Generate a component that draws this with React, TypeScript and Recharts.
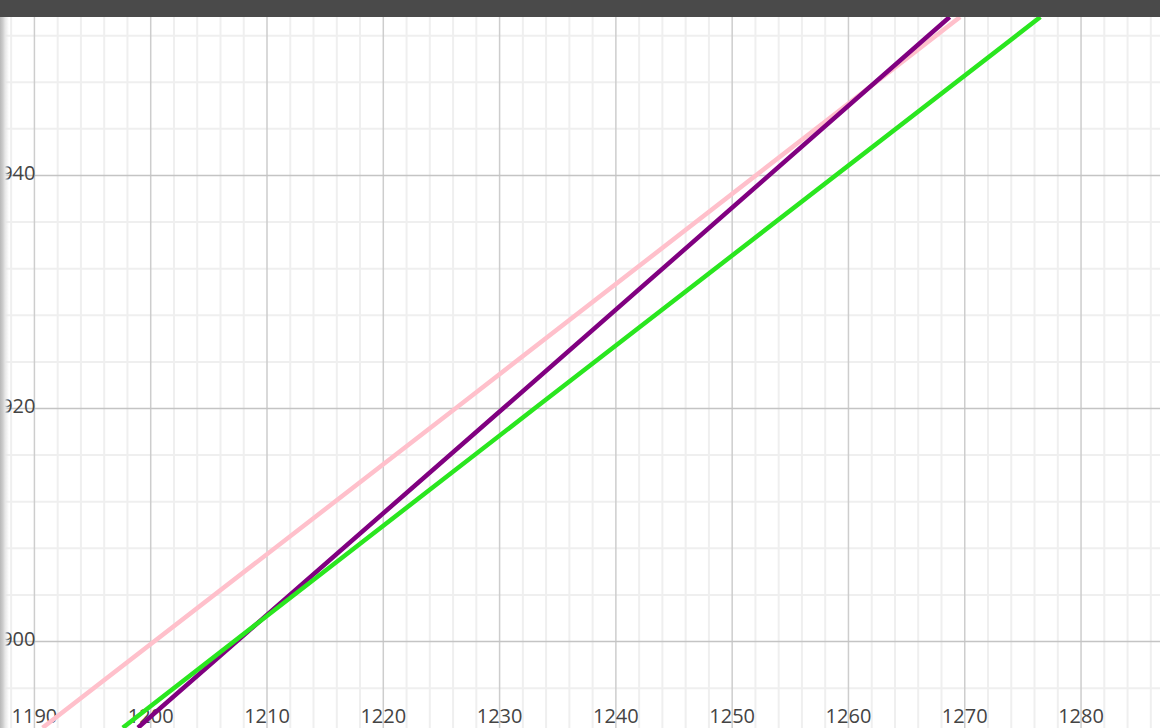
import { LineChart, Line, XAxis, YAxis, ReferenceLine } from 'recharts';

// visible window of the plot (data units)
const xDomain = [1187.04, 1286.79];
const yDomain = [892.58, 953.6];

const xMajorTicks = [1190, 1200, 1210, 1220, 1230, 1240, 1250, 1260, 1270, 1280];
const xMinorTicks = [
  1188, 1192, 1194, 1196, 1198, 1202, 1204, 1206, 1208, 1212, 1214, 1216, 1218, 1222,
  1224, 1226, 1228, 1232, 1234, 1236, 1238, 1242, 1244, 1246, 1248, 1252, 1254, 1256,
  1258, 1262, 1264, 1266, 1268, 1272, 1274, 1276, 1278, 1282, 1284, 1286,
];
const yMajorTicks = [900, 920, 940];
const yMinorTicks = [896, 904, 908, 912, 916, 924, 928, 932, 936, 944, 948, 952];

// points
const pinkLine = [
  { x: 1190.7, y: 892.6 },
  { x: 1226.2, y: 920.0 },
  { x: 1269.6, y: 953.6 },
];
const purpleLine = [
  { x: 1198.9, y: 892.6 },
  { x: 1230.3, y: 920.0 },
  { x: 1268.7, y: 953.6 },
];
const greenLine = [
  { x: 1197.6, y: 892.6 },
  { x: 1233.0, y: 920.0 },
  { x: 1276.5, y: 953.6 },
];

const CHART_W = 1160;
const CHART_H = 711;
const labelFont = '"Open Sans", "Noto Sans", sans-serif';

function XLabel(props: any) {
  const vb = props.viewBox || {};
  return (
    <text
      x={vb.x}
      y={CHART_H - 5}
      textAnchor="middle"
      fontSize={20}
      fontFamily={labelFont}
      fill="#444"
    >
      {props.value}
    </text>
  );
}

function YLabel(props: any) {
  const vb = props.viewBox || {};
  return (
    <text
      x={35.5}
      y={vb.y + 4.5}
      textAnchor="end"
      fontSize={20}
      fontFamily={labelFont}
      fill="#444"
    >
      {props.value}
    </text>
  );
}

export default function App() {
  return (
    <div
      style={{
        position: 'fixed',
        left: 0,
        top: 0,
        width: 1160,
        height: 728,
        background: '#ffffff',
        overflow: 'hidden',
      }}
    >
      <div style={{ position: 'absolute', left: 0, top: 0, width: 1160, height: 17, background: '#4a4a4a' }} />
      <div style={{ position: 'absolute', left: 0, top: 17 }}>
        <LineChart width={CHART_W} height={CHART_H} margin={{ top: 0, right: 0, bottom: 0, left: 0 }}>
          <XAxis type="number" dataKey="x" domain={xDomain} allowDataOverflow hide />
          <YAxis type="number" dataKey="y" domain={yDomain} allowDataOverflow hide />
          {xMinorTicks.map((v) => (
            <ReferenceLine key={'xm' + v} x={v} stroke="#efefef" strokeWidth={2} />
          ))}
          {yMinorTicks.map((v) => (
            <ReferenceLine key={'ym' + v} y={v} stroke="#efefef" strokeWidth={2} />
          ))}
          {xMajorTicks.map((v) => (
            <ReferenceLine
              key={'xM' + v}
              x={v}
              stroke="#cdcdcd"
              strokeWidth={1.5}
              label={<XLabel value={v} />}
            />
          ))}
          {yMajorTicks.map((v) => (
            <ReferenceLine
              key={'yM' + v}
              y={v}
              stroke="#c4c4c4"
              strokeWidth={1.5}
              label={<YLabel value={v} />}
            />
          ))}
          <Line
            data={pinkLine}
            dataKey="y"
            type="linear"
            stroke="#ffc0cb"
            strokeWidth={4.5}
            dot={false}
            isAnimationActive={false}
          />
          <Line
            data={purpleLine}
            dataKey="y"
            type="linear"
            stroke="#800080"
            strokeWidth={4.5}
            dot={false}
            isAnimationActive={false}
          />
          <Line
            data={greenLine}
            dataKey="y"
            type="linear"
            stroke="#2ae61f"
            strokeWidth={4.5}
            dot={false}
            isAnimationActive={false}
          />
        </LineChart>
      </div>
      <div
        style={{
          position: 'absolute',
          left: 0,
          top: 17,
          width: 9,
          height: 711,
          background: 'linear-gradient(to right, #b8b8b8 0px, #cfcfcf 3px, #e6e6e6 5px, rgba(255,255,255,0) 9px)',
        }}
      />
    </div>
  );
}
